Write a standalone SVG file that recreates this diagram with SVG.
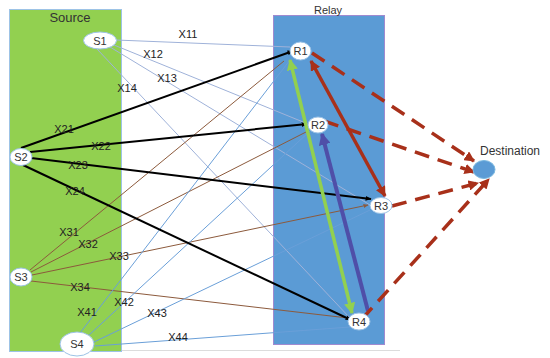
<svg xmlns="http://www.w3.org/2000/svg" width="550" height="358" viewBox="0 0 550 358">
<defs>
<style>
.lbl{font-family:"Liberation Sans",Arial,sans-serif;font-size:11px;fill:#222;text-anchor:middle}
.nt{font-family:"Liberation Sans",Arial,sans-serif;font-size:11px;fill:#333;text-anchor:middle}
.node{fill:#fff;stroke:#9dc3e6;stroke-width:1}
.s1{stroke:#9fb2d9;stroke-width:1;fill:none}
.s2{stroke:#000;stroke-width:2;fill:none}
.s3{stroke:#8c5a3c;stroke-width:1;fill:none}
.s4{stroke:#6a9fd8;stroke-width:1;fill:none}
.rd{stroke:#a8301a;stroke-width:3.5;fill:none;stroke-dasharray:15 9}
</style>
<marker id="ab" viewBox="0 0 10 10" refX="9" refY="5" markerWidth="3" markerHeight="3" orient="auto"><path d="M0,1 L10,5 L0,9 z" fill="#000"/></marker>
<marker id="abr" viewBox="0 0 10 10" refX="9" refY="5" markerWidth="5" markerHeight="5" orient="auto"><path d="M0,1 L10,5 L0,9 z" fill="#8c5a3c"/></marker>
<marker id="ag" viewBox="0 0 10 10" refX="9" refY="5" markerWidth="3.2" markerHeight="3.2" orient="auto-start-reverse"><path d="M0,0 L10,5 L0,10 z" fill="#92d050"/></marker>
<marker id="ap" viewBox="0 0 10 10" refX="9" refY="5" markerWidth="3" markerHeight="3" orient="auto"><path d="M0,0 L10,5 L0,10 z" fill="#4f4fa8"/></marker>
<marker id="ar" viewBox="0 0 10 10" refX="9" refY="5" markerWidth="3" markerHeight="3" orient="auto-start-reverse"><path d="M0,0 L10,5 L0,10 z" fill="#a8301a"/></marker>
</defs>
<rect width="550" height="358" fill="#fff"/>
<line x1="9" y1="350.5" x2="400" y2="350.5" stroke="#dcdcdc" stroke-width="1"/>
<g id="source-box">
<rect x="9.5" y="9.5" width="112" height="342" fill="#92d050" stroke="#9dc3e6" stroke-width="1"/>
<text x="70" y="22" font-family="Liberation Sans, Arial, sans-serif" font-size="13" fill="#333" text-anchor="middle">Source</text>
</g>
<g id="relay-box">
<rect x="273.5" y="15.5" width="111" height="329" fill="#5b9bd5" stroke="#a08ad0" stroke-width="1"/>
<text x="328" y="14" class="nt">Relay</text>
</g>
<g id="connectors">
<line class="s1" x1="116" y1="40" x2="290" y2="47"/>
<line class="s1" x1="114" y1="45" x2="308" y2="124"/>
<line class="s1" x1="110" y1="47" x2="370" y2="205"/>
<line class="s1" x1="97" y1="49" x2="350" y2="318"/>
<line class="s3" x1="30" y1="270" x2="284" y2="61"/>
<line class="s3" x1="31" y1="272" x2="306" y2="132"/>
<line class="s3" x1="32" y1="275" x2="368" y2="205" marker-end="url(#abr)"/>
<line class="s3" x1="31" y1="281" x2="348" y2="318"/>
<line class="s4" x1="80" y1="333" x2="290" y2="60"/>
<line class="s4" x1="88" y1="336" x2="310" y2="131"/>
<line class="s4" x1="94" y1="342" x2="370" y2="210"/>
<line class="s4" x1="95" y1="346" x2="350" y2="327"/>
<line class="s2" x1="21" y1="148" x2="293" y2="51" marker-end="url(#ab)"/>
<line class="s2" x1="30" y1="152" x2="307" y2="124" marker-end="url(#ab)"/>
<line class="s2" x1="31" y1="158" x2="371" y2="199" marker-end="url(#ab)"/>
<line class="s2" x1="23" y1="165" x2="351" y2="320" marker-end="url(#ab)"/>
<line x1="352" y1="313" x2="290" y2="60" stroke="#92d050" stroke-width="3.5" marker-start="url(#ag)" marker-end="url(#ag)"/>
<line x1="368" y1="311" x2="322" y2="134" stroke="#4f4fa8" stroke-width="4" marker-end="url(#ap)"/>
<line x1="311" y1="61" x2="385" y2="196" stroke="#a8301a" stroke-width="3.5" marker-start="url(#ar)" marker-end="url(#ar)"/>
<line class="rd" x1="312" y1="53" x2="474" y2="161" marker-end="url(#ar)"/>
<line class="rd" x1="324" y1="121" x2="474" y2="172" marker-end="url(#ar)"/>
<line class="rd" x1="392" y1="206" x2="478" y2="183" marker-end="url(#ar)"/>
<line class="rd" x1="362" y1="319" x2="489" y2="179" marker-end="url(#ar)"/>
</g>
<g id="labels">
<text class="lbl" x="188" y="38">X11</text>
<text class="lbl" x="153" y="58">X12</text>
<text class="lbl" x="167" y="82">X13</text>
<text class="lbl" x="127" y="92">X14</text>
<text class="lbl" x="64" y="133">X21</text>
<text class="lbl" x="101" y="150">X22</text>
<text class="lbl" x="78" y="169">X23</text>
<text class="lbl" x="75" y="195">X24</text>
<text class="lbl" x="69" y="236">X31</text>
<text class="lbl" x="88" y="248">X32</text>
<text class="lbl" x="119" y="260">X33</text>
<text class="lbl" x="80" y="291">X34</text>
<text class="lbl" x="87" y="316">X41</text>
<text class="lbl" x="124" y="306">X42</text>
<text class="lbl" x="157" y="317">X43</text>
<text class="lbl" x="178" y="341">X44</text>
</g>
<g id="S1"><ellipse class="node" cx="100" cy="40.5" rx="16.5" ry="8.5"/><text class="nt" x="100" y="44.5">S1</text></g>
<g id="S2"><ellipse class="node" cx="21" cy="157" rx="11" ry="8.5"/><text class="nt" x="21" y="161">S2</text></g>
<g id="S3"><ellipse class="node" cx="21" cy="277" rx="11" ry="9"/><text class="nt" x="21" y="281">S3</text></g>
<g id="S4"><ellipse class="node" cx="77" cy="344" rx="17" ry="12"/><text class="nt" x="77" y="348">S4</text></g>
<g id="R1"><ellipse class="node" cx="300.5" cy="51" rx="10.5" ry="9"/><text class="nt" x="300.5" y="55">R1</text></g>
<g id="R2"><ellipse class="node" cx="318" cy="125" rx="10" ry="8"/><text class="nt" x="318" y="129">R2</text></g>
<g id="R3"><ellipse class="node" cx="381" cy="205.5" rx="11" ry="8"/><text class="nt" x="381" y="209.5">R3</text></g>
<g id="R4"><ellipse class="node" cx="359" cy="321.5" rx="11" ry="8.5"/><text class="nt" x="359" y="325.5">R4</text></g>
<g id="Destination"><ellipse cx="484" cy="169.5" rx="11" ry="9" fill="#5b9bd5" stroke="#7ab8e0" stroke-width="1"/><text x="510" y="155" font-family="Liberation Sans, Arial, sans-serif" font-size="12" fill="#333" text-anchor="middle">Destination</text></g>
</svg>
